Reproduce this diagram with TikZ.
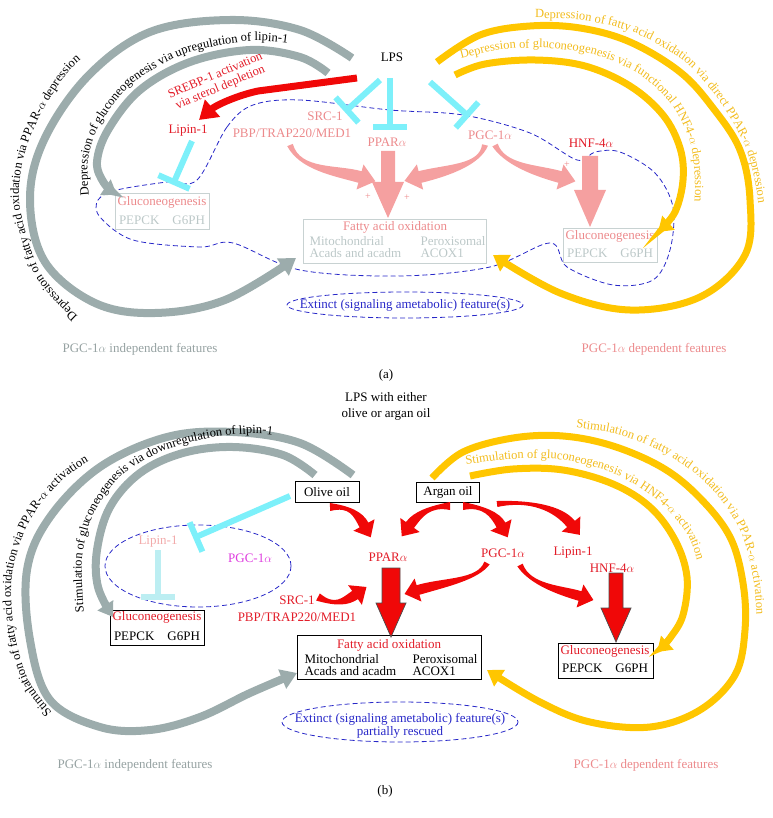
\documentclass[tikz,border=0pt]{standalone}
\usepackage{fontspec}
\setmainfont{Liberation Serif}
\usetikzlibrary{calc,arrows.meta,decorations.text}
\definecolor{arcgray}{RGB}{156,172,172}
\definecolor{gold}{RGB}{255,198,0}
\definecolor{goldT}{RGB}{242,188,30}
\definecolor{cyanT}{RGB}{125,240,250}
\definecolor{paleT}{RGB}{188,238,242}
\definecolor{pinkA}{RGB}{245,160,160}
\definecolor{pinkT}{RGB}{236,138,140}
\definecolor{redA}{RGB}{240,8,8}
\definecolor{redT}{RGB}{226,28,40}
\definecolor{lgrayT}{RGB}{188,200,200}
\definecolor{boxgray}{RGB}{200,210,210}
\definecolor{blueD}{RGB}{40,40,200}
\definecolor{mag}{RGB}{222,60,222}
\definecolor{indep}{RGB}{150,162,162}
\definecolor{paleP}{RGB}{242,170,170}
\newcommand\tbar[4]{\draw[#1] (#2) -- (#3); \draw[#1] ($(#3)!#4!90:(#2)$) -- ($(#3)!#4!-90:(#2)$);}
\newcommand\bigdarrow[7]{\filldraw[#1] (#2-#6,#3) -- (#2+#6,#3) -- (#2+#6,#4) -- (#2+#7,#4) -- (#2,#5) -- (#2-#7,#4) -- (#2-#6,#4) -- cycle;}
\newcommand\curvarrow[9]{\fill[#1] ($(#2)!#9!-90:(#3)$) .. controls (#3) and ($(#4)!#6!-90:(#5)$) .. ($(#5)!#6!90:(#4)$) -- ($(#5)!#7!90:(#4)$) -- ($(#5)!-#8!(#4)$) -- ($(#5)!#7!-90:(#4)$) -- ($(#5)!#6!-90:(#4)$) .. controls ($(#4)!#6!90:(#5)$) and (#3) .. ($(#2)!#9!90:(#3)$) -- cycle;}
\newcommand\af{\fontsize{12.5}{14}\selectfont}
\tikzset{
  arcG/.style={draw=arcgray, line width=8pt, -{Triangle[length=16pt,width=20pt]}},
  arcY/.style={draw=gold, line width=7pt, -{Triangle[length=15pt,width=19pt]}},
  cy/.style={draw=cyanT, line width=6pt},
  cyp/.style={draw=paleT, line width=6pt},
  arclab/.style={decorate, decoration={text along path, text={#1}, text align=left}},
  boxA/.style={draw=boxgray, line width=0.8pt, inner sep=0pt},
  boxB/.style={draw=black, line width=0.8pt, inner sep=0pt},
  dsh/.style={draw=blueD, line width=0.8pt, dash pattern=on 5pt off 3pt},
  two/.style={align=left, anchor=west, font=\fontsize{13}{11.5}\selectfont},
}
\begin{document}
\begin{tikzpicture}[x=1pt,y=-1pt,font=\fontsize{13}{15}\selectfont]
\useasboundingbox (0,0) rectangle (772,818);

% ================= panel (a) =================
\draw[dsh] plot[smooth cycle, tension=0.55] coordinates {(197,180) (227,127) (253,105) (300,100) (390,110) (463,115) (530,133) (577,160) (595,152) (620,152) (655,173) (673,207) (670,250) (653,280) (613,285) (567,267) (550,243) (490,267) (400,276) (300,270) (233,243) (200,247) (133,240) (100,217) (98,200) (117,190) (167,182)};

\node[boxA, minimum width=94pt, minimum height=36pt] (gluA) at (162,211) {};
\node[text=pinkT] at (162,202) {Gluconeogenesis};
\node[text=lgrayT] at (162,220) {PEPCK\quad G6PH};
\node[boxA, minimum width=183pt, minimum height=44pt] (faoA) at (394.5,241) {};
\node[text=pinkT] at (395,227) {Fatty acid oxidation};
\node[two, text=lgrayT] at (306,247) {Mitochondrial\\Acads and acadm};
\node[two, text=lgrayT] at (417,247) {Peroxisomal\\ACOX1};
\node[boxA, minimum width=94pt, minimum height=34pt] (gluA2) at (610,245) {};
\node[text=pinkT] at (610,236) {Gluconeogenesis};
\node[text=lgrayT] at (610,253) {PEPCK\quad G6PH};

\node (lps) at (392,57) {LPS};
\node[text=redT, align=center, rotate=23, font=\fontsize{12.5}{13}\selectfont] (srebp) at (218,82) {SREBP-1 activation\\via sterol depletion};
\node[text=redT] (lipinA) at (188,131) {Lipin-1};
\node[text=pinkT] (srcA) at (325,116) {SRC-1};
\node[text=pinkT] (pbpA) at (292,133) {PBP/TRAP220/MED1};
\node[text=pinkT] (pparA) at (387,142) {PPAR$\alpha$};
\node[text=pinkT] (pgcA) at (490,135) {PGC-1$\alpha$};
\node[text=redT] (hnfA) at (591,143) {HNF-4$\alpha$};
\node[text=pinkT, font=\fontsize{10}{10}\selectfont] at (368,197) {+};
\node[text=pinkT, font=\fontsize{10}{10}\selectfont] at (407,198) {+};
\node[text=pinkT, font=\fontsize{10}{10}\selectfont] at (567,165) {+};

\draw[dsh] (405,305) ellipse [x radius=118, y radius=13];
\node[text=blueD] (extA) at (405,305) {Extinct (signaling ametabolic) feature(s)};
\node[text=indep] (indA) at (140,349) {PGC-1$\alpha$ independent features};
\node[text=pinkT] (depA) at (654,349) {PGC-1$\alpha$ dependent features};
\node (capA) at (386,375) {(a)};

% gray arcs
\draw[arcG] plot[smooth, tension=0.6] coordinates {(352,58) (300,30) (230,20) (150,32) (88,76) (44,140) (30,200) (45,262) (95,303) (155,313) (225,300) (296,258)};
\draw[arcG, -{Triangle[length=14pt,width=18pt]}] plot[smooth, tension=0.6] coordinates {(328,73) (300,57) (250,50) (190,62) (140,90) (108,130) (97,162) (104,183) (117,195)};
\path[arclab={|\af|Depression of fatty acid oxidation via PPAR-{$\alpha$} depression}] plot[smooth] coordinates {(78,316) (40,272) (19,200) (31,135) (74,66) (145,22) (230,8) (310,15)};
\path[arclab={|\af|Depression of gluconeogenesis via upregulation of lipin-1}] plot[smooth] coordinates {(89,195) (88,160) (100,124) (133,83) (185,54) (250,41) (305,46) (345,62)};

% yellow arcs
\draw[arcY] plot[smooth, tension=0.6] coordinates {(437,62) (480,35) (530,26) (580,28) (630,42) (680,72) (713,108) (740,150) (750,200) (745,255) (700,297) (630,310) (560,293) (493,255)};
\draw[arcY, -{Triangle[length=14pt,width=18pt]}] plot[smooth, tension=0.6] coordinates {(455,75) (485,64) (535,60) (585,66) (630,86) (663,115) (680,148) (683,180) (675,212) (658,232)};
\path[arclab={|\af\color{goldT}|Depression of fatty acid oxidation via direct PPAR-{$\alpha$} depression}] plot[smooth] coordinates {(535,18) (582,20) (635,33) (685,62) (720,102) (746,148) (758,200) (762,270)};
\path[arclab={|\af\color{goldT}|Depression of gluconeogenesis via functional HNF4-{$\alpha$} depression}] plot[smooth] coordinates {(461,59) (500,50) (545,48) (595,55) (640,75) (672,105) (690,142) (695,182) (693,240)};

\draw[redA, line width=7pt, -{Triangle[length=18pt,width=22pt]}] (357,78) -- (258,91) .. controls (235,96) and (215,106) .. (199,120);

\tbar{cy}{380,80}{347,110}{17pt}
\tbar{cy}{390,78}{390,127}{17pt}
\tbar{cy}{430,82}{467,115}{17pt}
\tbar{cy}{192,141}{174,182}{17pt}

\curvarrow{pinkA}{290,145}{300,170}{335,170}{360,177}{6pt}{13pt}{16pt}{3pt}
\curvarrow{pinkA}{485,145}{480,165}{448,170}{420,177}{6pt}{13pt}{16pt}{3pt}
\curvarrow{pinkA}{495,145}{505,165}{535,170}{560,177}{6pt}{13pt}{16pt}{3pt}
\bigdarrow{fill=pinkA, draw=none}{388}{151}{182}{218}{7}{16}
\bigdarrow{fill=pinkA, draw=none}{590}{156}{190}{227}{8}{16}

% ================= panel (b) =================
\node[align=center, font=\fontsize{13}{16}\selectfont] (lpsB) at (386,406) {LPS with either\\olive or argan oil};
\node[boxB, minimum width=64pt, minimum height=21pt] (olive) at (327,492) {Olive oil};
\node[boxB, minimum width=63pt, minimum height=20pt] (argan) at (448,492) {Argan oil};

\draw[dsh] (198,566) ellipse [x radius=93, y radius=41];
\node[text=paleP] (lipinB) at (158,542) {Lipin-1};
\node[text=mag] (pgcB1) at (250,558) {PGC-1$\alpha$};

\node[boxB, minimum width=94pt, minimum height=35pt] (gluB) at (157,627.5) {};
\node[text=redT] at (157,617) {Gluconeogenesis};
\node at (157,636) {PEPCK\quad G6PH};

\node[text=redT] (pparB) at (388,557) {PPAR$\alpha$};
\node[text=redT] (pgcB) at (503,553) {PGC-1$\alpha$};
\node[text=redT] (lipinB2) at (573,553) {Lipin-1};
\node[text=redT] (hnfB) at (612,568) {HNF-4$\alpha$};
\node[text=redT] (srcB) at (297,600) {SRC-1};
\node[text=redT] (pbpB) at (297,617) {PBP/TRAP220/MED1};

\node[boxB, minimum width=184pt, minimum height=44pt] (faoB) at (389,657) {};
\node[text=redT] at (389,645) {Fatty acid oxidation};
\node[two] at (301,665) {Mitochondrial\\Acads and acadm};
\node[two] at (409,665) {Peroxisomal\\ACOX1};
\node[boxB, minimum width=95pt, minimum height=35pt] (gluB2) at (605.5,660.5) {};
\node[text=redT] at (605,651) {Gluconeogenesis};
\node at (605,668) {PEPCK\quad G6PH};

\draw[dsh] (400,722) ellipse [x radius=118, y radius=20];
\node[text=blueD, align=center, font=\fontsize{13}{13}\selectfont] (extB) at (400,726) {Extinct (signaling ametabolic) feature(s)\\partially rescued};
\node[text=indep] (indB) at (135,765) {PGC-1$\alpha$ independent features};
\node[text=pinkT] (depB) at (646,765) {PGC-1$\alpha$ dependent features};
\node (capB) at (385,791) {(b)};

% gray arcs (b)
\draw[arcG] plot[smooth, tension=0.6] coordinates {(353,475) (300,443) (233,432) (167,437) (100,467) (50,517) (27,570) (30,640) (50,700) (100,727) (150,730) (200,717) (250,693) (297,673)};
\draw[arcG, -{Triangle[length=14pt,width=18pt]}] plot[smooth, tension=0.6] coordinates {(315,475) (283,455) (233,447) (183,453) (140,473) (110,507) (97,550) (98,587) (113,617)};
\path[arclab={|\af|Stimulation of fatty acid oxidation via PPAR-{$\alpha$} activation}] plot[smooth] coordinates {(52,712) (28,680) (14,630) (12,575) (30,520) (65,478) (110,450) (160,432) (220,422) (290,422)};
\path[arclab={|\af|Stimulation of gluconeogenesis via downregulation of lipin-1}] plot[smooth] coordinates {(84,612) (82,560) (93,515) (122,475) (165,450) (215,437) (265,434) (315,445) (345,462)};

% yellow arcs (b)
\draw[arcY] plot[smooth, tension=0.6] coordinates {(432,478) (463,452) (513,438) (563,436) (613,446) (663,468) (700,498) (730,537) (743,583) (745,630) (735,675) (700,710) (650,727) (590,722) (540,702) (487,670)};
\draw[arcY, -{Triangle[length=14pt,width=18pt]}] plot[smooth, tension=0.6] coordinates {(470,476) (513,469) (563,470) (613,484) (650,507) (675,540) (687,577) (683,615) (670,638) (657,652)};
\path[arclab={|\af\color{goldT}|Stimulation of fatty acid oxidation via PPAR-{$\alpha$} activation}] plot[smooth] coordinates {(576,428) (620,435) (668,455) (710,487) (740,530) (754,583) (757,640) (755,710)};
\path[arclab={|\af\color{goldT}|Stimulation of gluconeogenesis via HNF4-{$\alpha$} activation}] plot[smooth] coordinates {(466,465) (512,459) (563,460) (615,474) (657,500) (687,534) (700,574) (703,630)};

\tbar{cy}{290,496}{196,537}{16pt}
\tbar{cyp}{158,550}{158,597}{17pt}

\curvarrow{redA}{330,507}{350,506}{358,514}{364,525}{5pt}{12pt}{14pt}{4pt}
\curvarrow{redA}{450,506}{430,506}{418,514}{410,525}{5pt}{12pt}{14pt}{4pt}
\curvarrow{redA}{463,506}{483,506}{495,514}{501,525}{5pt}{12pt}{14pt}{4pt}
\curvarrow{redA}{497,504}{530,500}{558,508}{571,524}{5pt}{12pt}{14pt}{3pt}
\curvarrow{redA}{487,563}{478,580}{445,582}{418,590}{5pt}{12pt}{14pt}{3pt}
\curvarrow{redA}{520,565}{530,585}{560,590}{580,596}{5pt}{12pt}{14pt}{3pt}
\curvarrow{redA}{318,597}{335,606}{345,602}{355,595}{5pt}{12pt}{14pt}{4pt}
\bigdarrow{fill=redA, draw=black!70, line width=0.7pt}{391}{568}{603}{637}{9}{15}
\bigdarrow{fill=redA, draw=black!70, line width=0.7pt}{616}{573}{608}{642}{7}{15}
\end{tikzpicture}
\end{document}
